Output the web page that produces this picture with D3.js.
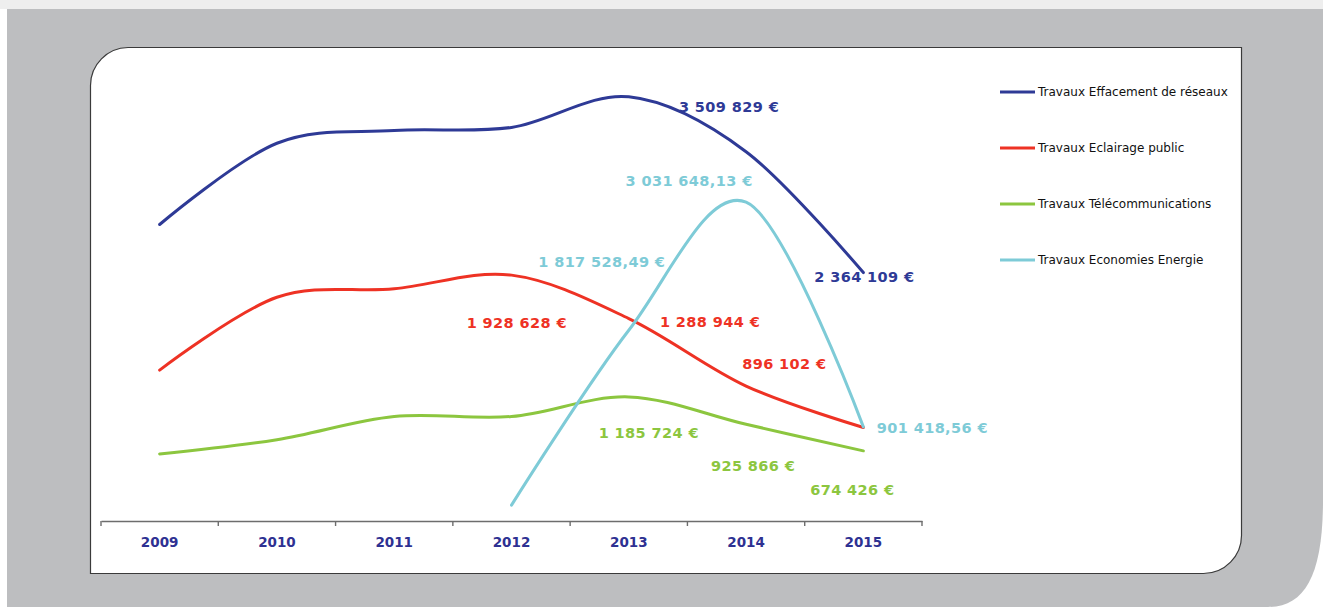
<!DOCTYPE html>
<html>
<head>
<meta charset="utf-8">
<script src="https://cdn.jsdelivr.net/npm/d3@7"></script>
<style>
  html, body { margin: 0; padding: 0; background: #ffffff; }
  svg { display: block; font-family: "DejaVu Sans", sans-serif; }
</style>
</head>
<body>
<div id="chart"></div>
<script>
const years = ["2009", "2010", "2011", "2012", "2013", "2014", "2015"];

const effacement = [2820000, 3590000, 3710000, 3740000, 4030000, 3509829, 2364109];
const eclairage = [1440000, 2130000, 2210000, 2340000, 1928628, 1288944, 896102];
const telecom = [645000, 780000, 1000000, 1000000, 1185724, 925866, 674426];
const economies = [null, null, null, 160000, 1817528.49, 3031648.13, 901418.56];

const seriesNames = [
  "Travaux Effacement de réseaux",
  "Travaux Eclairage public",
  "Travaux Télécommunications",
  "Travaux Economies Energie",
];
const seriesColors = ["#2e3a96", "#ee3224", "#8cc63f", "#7ecbd7"];
const seriesValues = [effacement, eclairage, telecom, economies];
const seriesDecimals = [0, 0, 0, 2];

// which points get a value label, and where it sits relative to the point
const labelled = [
  [{ i: 5, dx: -17, dy: -45 }, { i: 6, dx: 1, dy: 4 }],
  [{ i: 4, dx: -112, dy: 4 }, { i: 5, dx: -36, dy: -64 }, { i: 6, dx: -79, dy: -63 }],
  [{ i: 4, dx: 20, dy: 36 }, { i: 5, dx: 7, dy: 42 }, { i: 6, dx: -11, dy: 39 }],
  [{ i: 4, dx: -27, dy: -68 }, { i: 5, dx: -57, dy: -21 }, { i: 6, dx: 69, dy: 1 }],
];

const width = 1323, height = 607;
const fr = d3.formatLocale({ decimal: ",", thousands: " ", grouping: [3], currency: ["", " €"] });

const svg = d3.select("#chart").append("svg").attr("width", width).attr("height", height);

// grey frame with big rounded bottom-right corner
svg.append("rect").attr("x", 0).attr("y", 0).attr("width", width).attr("height", 9).attr("fill", "#eeeeee");
svg.append("path")
  .attr("d", "M7,9 H1323 V500 C1323,575 1305,607 1268,607 H7 Z")
  .attr("fill", "#bdbec0");

// white panel
svg.append("path")
  .attr("d", "M128,47.5 H1241.5 V535 A38,38 0 0 1 1203.5,573.5 H90.5 V85.5 A38,38 0 0 1 128,47.5 Z")
  .attr("fill", "#ffffff")
  .attr("stroke", "#3a3a3a")
  .attr("stroke-width", 1.2);

const x = d3.scaleBand().domain(years).range([101, 922]);
const y = d3.scaleLinear().domain([0, 4000000]).range([522, 100]);
const cx = (i) => x(years[i]) + x.bandwidth() / 2;

// x axis
const axis = svg.append("g")
  .attr("transform", "translate(0,521)")
  .call(d3.axisBottom(x).tickSize(0).tickPadding(16));
axis.select(".domain").attr("stroke", "#6d6d6d").attr("stroke-width", 1.6);
axis.selectAll(".tick text")
  .attr("fill", "#2e3192")
  .attr("font-size", 13.5)
  .attr("font-weight", "bold")
  .attr("font-family", "DejaVu Sans, sans-serif");
const edges = years.map((yr) => x(yr)).concat([x.range()[1]]);
svg.append("g").selectAll("line").data(edges).enter().append("line")
  .attr("x1", (d) => d).attr("x2", (d) => d)
  .attr("y1", 521).attr("y2", 526)
  .attr("stroke", "#6d6d6d").attr("stroke-width", 1.4);

// lines
const line = d3.line()
  .defined((d) => d != null)
  .x((_, i) => cx(i))
  .y((d) => y(d))
  .curve(d3.curveCatmullRom.alpha(0));

seriesValues.forEach((vals, s) => {
  svg.append("path")
    .datum(vals)
    .attr("d", line)
    .attr("fill", "none")
    .attr("stroke", seriesColors[s])
    .attr("stroke-width", 3)
    .attr("stroke-linecap", "round");
});

// value labels
seriesValues.forEach((vals, s) => {
  const fmt = fr.format(seriesDecimals[s] ? ",.2f" : ",.0f");
  svg.append("g").selectAll("text").data(labelled[s]).enter().append("text")
    .attr("x", (d) => cx(d.i) + d.dx)
    .attr("y", (d) => y(vals[d.i]) + d.dy)
    .attr("text-anchor", "middle")
    .attr("dominant-baseline", "central")
    .attr("fill", seriesColors[s])
    .attr("font-size", 14.5)
    .attr("font-weight", "bold")
    .attr("letter-spacing", 0.4)
    .text((d) => fmt(vals[d.i]) + " €");
});

// legend
const legend = svg.append("g").selectAll("g").data(seriesNames).enter().append("g")
  .attr("transform", (_, i) => `translate(1000,${92 + i * 56})`);
legend.append("line")
  .attr("x1", 0).attr("x2", 35)
  .attr("stroke", (_, i) => seriesColors[i])
  .attr("stroke-width", 3);
legend.append("text")
  .attr("x", 38)
  .attr("dominant-baseline", "central")
  .attr("font-size", 12)
  .attr("fill", "#111")
  .text((d) => d);
</script>
</body>
</html>
